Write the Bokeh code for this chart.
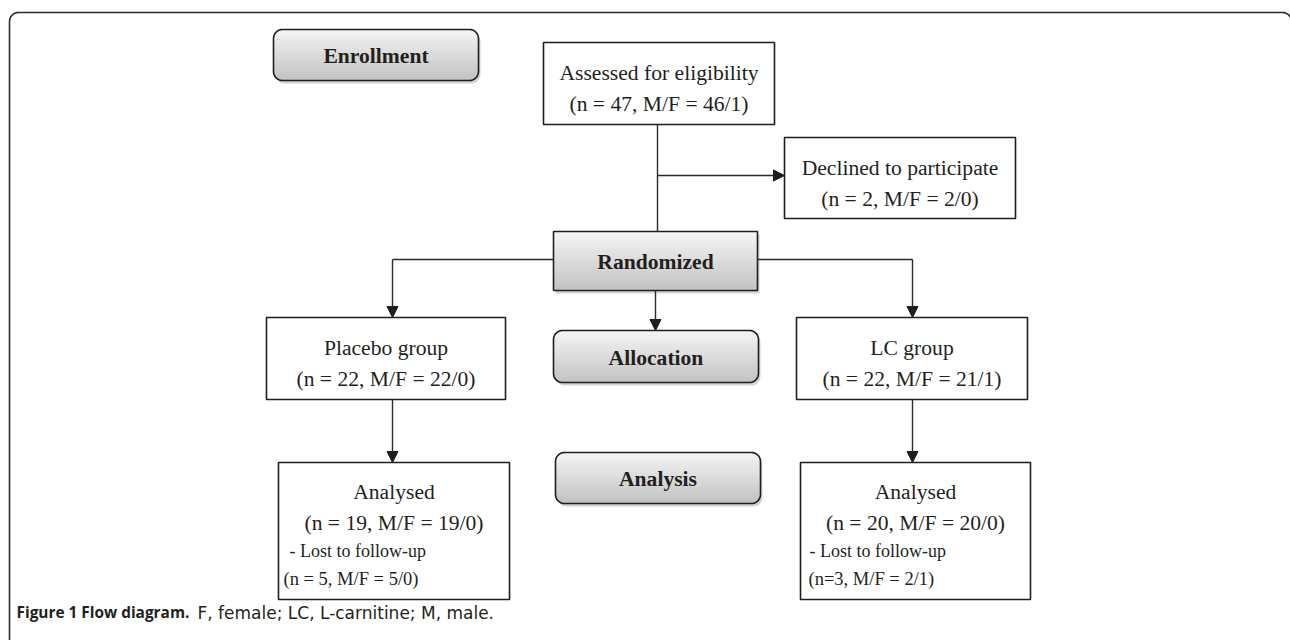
import numpy as np
from bokeh.plotting import figure
from bokeh.models import Range1d, Arrow, NormalHead
from bokeh.core.properties import value
from bokeh.embed import file_html
from bokeh.resources import INLINE

# ---------------- data ----------------
stage_labels = ["Enrollment", "Randomized", "Allocation", "Analysis"]
box_titles = ["Assessed for eligibility", "Declined to participate",
              "Placebo group", "LC group", "Analysed", "Analysed"]
box_n = [47, 2, 22, 22, 19, 20]
box_male = [46, 2, 22, 21, 19, 20]
box_female = [1, 0, 0, 1, 0, 0]
lost_title = "- Lost to follow-up"
lost_n = [5, 3]
lost_male = [5, 2]
lost_female = [0, 1]
lost_eq = [" = ", "="]
caption_bold = "Figure 1 Flow diagram."
caption_text = "F, female; LC, L-carnitine; M, male."

# ---------------- layout (page pixel coords) ----------------
W, H = 1290, 640
SERIF = value("Liberation Serif")
INK = "#231f20"
LINE = "#2b2b2b"
FS = "21.6px"

stage_boxes = [(273, 29, 478, 80, 9), (553, 231, 757, 290, 0),
               (553, 330, 758, 382, 9), (555, 452, 760, 503, 9)]
flow_boxes = [(543, 42, 774, 124), (784, 137, 1015, 218),
              (266, 317, 505, 399), (796, 317, 1027, 399),
              (278, 462, 509, 599), (800, 462, 1030, 599)]

p = figure(width=W, height=H, x_range=Range1d(0, W), y_range=Range1d(H, 0),
           output_backend="svg", toolbar_location=None, min_border=0,
           x_axis_location=None, y_axis_location=None)
p.grid.visible = False
p.outline_line_color = None
p.background_fill_color = "white"
p.border_fill_color = "white"


def rrect(x0, y0, x1, y1, r, n=10):
    if r <= 0:
        return [x0, x1, x1, x0], [y0, y0, y1, y1]
    xs, ys = [], []
    for cx, cy, a0 in [(x0 + r, y0 + r, np.pi), (x1 - r, y0 + r, 1.5 * np.pi),
                       (x1 - r, y1 - r, 0.0), (x0 + r, y1 - r, 0.5 * np.pi)]:
        t = np.linspace(a0, a0 + 0.5 * np.pi, n)
        xs += list(cx + r * np.cos(t))
        ys += list(cy + r * np.sin(t))
    return xs, ys


def inset(y, y0, y1, r):
    if r <= 0:
        return 0.0
    if y < y0 + r:
        d = y0 + r - y
    elif y > y1 - r:
        d = y - (y1 - r)
    else:
        return 0.0
    d = min(d, r)
    return r - np.sqrt(max(r * r - d * d, 0.0))


def lerp_color(c0, c1, t):
    c = [int(round(a + (b - a) * t)) for a, b in zip(c0, c1)]
    return "#%02x%02x%02x" % tuple(c)


# outer frame (open at the bottom, right side just beyond the edge)
fx, fy = rrect(9, 12, 1291, 900, 9)
frame_x = [9] + fx[:20] + [1291]
frame_y = [900] + fy[:20] + [900]
p.line(frame_x, frame_y, line_color=LINE, line_width=1.6)

# gradient stage boxes
top_c, bot_c = (246, 246, 246), (194, 194, 194)
for (x0, y0, x1, y1, r), lab in zip(stage_boxes, stage_labels):
    sx, sy = rrect(x0 + 2, y0 + 3, x1 + 2, y1 + 3, r)
    p.patch(sx, sy, fill_color="#9e9e9e", fill_alpha=0.45, line_color=None)
    nstrip = 26
    edges = np.linspace(y0, y1, nstrip + 1)
    pxs, pys, cols = [], [], []
    for i in range(nstrip):
        ya, yb = edges[i], edges[i + 1]
        yy = np.linspace(ya, yb, 4)
        lx = [x0 + inset(v, y0, y1, r) for v in yy]
        rx = [x1 - inset(v, y0, y1, r) for v in yy]
        pxs.append(lx + rx[::-1])
        pys.append(list(yy) + list(yy[::-1]))
        cols.append(lerp_color(top_c, bot_c, (i + 0.5) / nstrip))
    p.patches(pxs, pys, fill_color=cols, line_color=cols, line_width=0.8)
    ox, oy = rrect(x0, y0, x1, y1, r)
    p.patch(ox, oy, fill_color=None, line_color="#1e1e1e", line_width=1.6)
    p.text([(x0 + x1) / 2], [(y0 + y1) / 2 + 1], [lab], text_align="center",
           text_baseline="middle", text_font=SERIF, text_font_size=FS,
           text_font_style="bold", text_color=INK)

# plain boxes
for i, (x0, y0, x1, y1) in enumerate(flow_boxes):
    p.quad(left=[x0], right=[x1], top=[y0], bottom=[y1], fill_color="white",
           line_color="#1e1e1e", line_width=1.6)
    cx = (x0 + x1) / 2
    ty = y0 + 30 if i < 4 else y0 + 29
    p.text([cx, cx], [ty, ty + 31],
           [box_titles[i], f"(n = {box_n[i]}, M/F = {box_male[i]}/{box_female[i]})"],
           text_align="center", text_baseline="middle", text_font=SERIF,
           text_font_size=FS, text_color=INK)

# lost to follow-up lines
title_pad = [11, 9]
count_pad = [5, 8]
for j, bi in enumerate([4, 5]):
    x0, y0, x1, y1 = flow_boxes[bi]
    p.text([x0 + title_pad[j]], [y0 + 88], [lost_title], text_align="left",
           text_baseline="middle", text_font=SERIF, text_font_size="18px",
           text_color=INK)
    p.text([x0 + count_pad[j]], [y0 + 116],
           [f"(n{lost_eq[j]}{lost_n[j]}, M/F = {lost_male[j]}/{lost_female[j]})"],
           text_align="left", text_baseline="middle", text_font=SERIF,
           text_font_size="18.5px", text_color=INK)

# connectors
ab, rb, al = flow_boxes[0], stage_boxes[1], stage_boxes[2]
pl, lc = flow_boxes[2], flow_boxes[3]
xa, ya_branch = 657, 175
xl, xr, yh = 392, 912, 259
p.multi_line([[xa, xa], [rb[0], xl], [rb[2], xr]],
             [[ab[3], rb[1]], [yh, yh], [yh, yh]],
             line_color=LINE, line_width=1.4)


def arrow(x0, y0, x1, y1):
    p.add_layout(Arrow(end=NormalHead(size=11, fill_color="#1e1e1e", line_color="#1e1e1e"),
                       x_start=x0, y_start=y0, x_end=x1, y_end=y1,
                       line_color=LINE, line_width=1.4))


arrow(xa, ya_branch, flow_boxes[1][0], ya_branch)
arrow(xl, yh, xl, pl[1])
arrow(xr, yh, xr, lc[1])
arrow(655, rb[3], 655, al[1])
arrow(xl, pl[3], xl, flow_boxes[4][1])
arrow(xr, lc[3], xr, flow_boxes[5][1])

# caption
p.text([16], [612], [caption_bold], text_align="left", text_baseline="middle",
       text_font=value("Open Sans"), text_font_size="15.4px", text_font_style="bold",
       text_color=INK)
p.text([197], [612], [caption_text], text_align="left", text_baseline="middle",
       text_font=value("DejaVu Sans"), text_font_size="17px", text_color=INK)

open("out.html", "w").write(file_html(p, INLINE))
